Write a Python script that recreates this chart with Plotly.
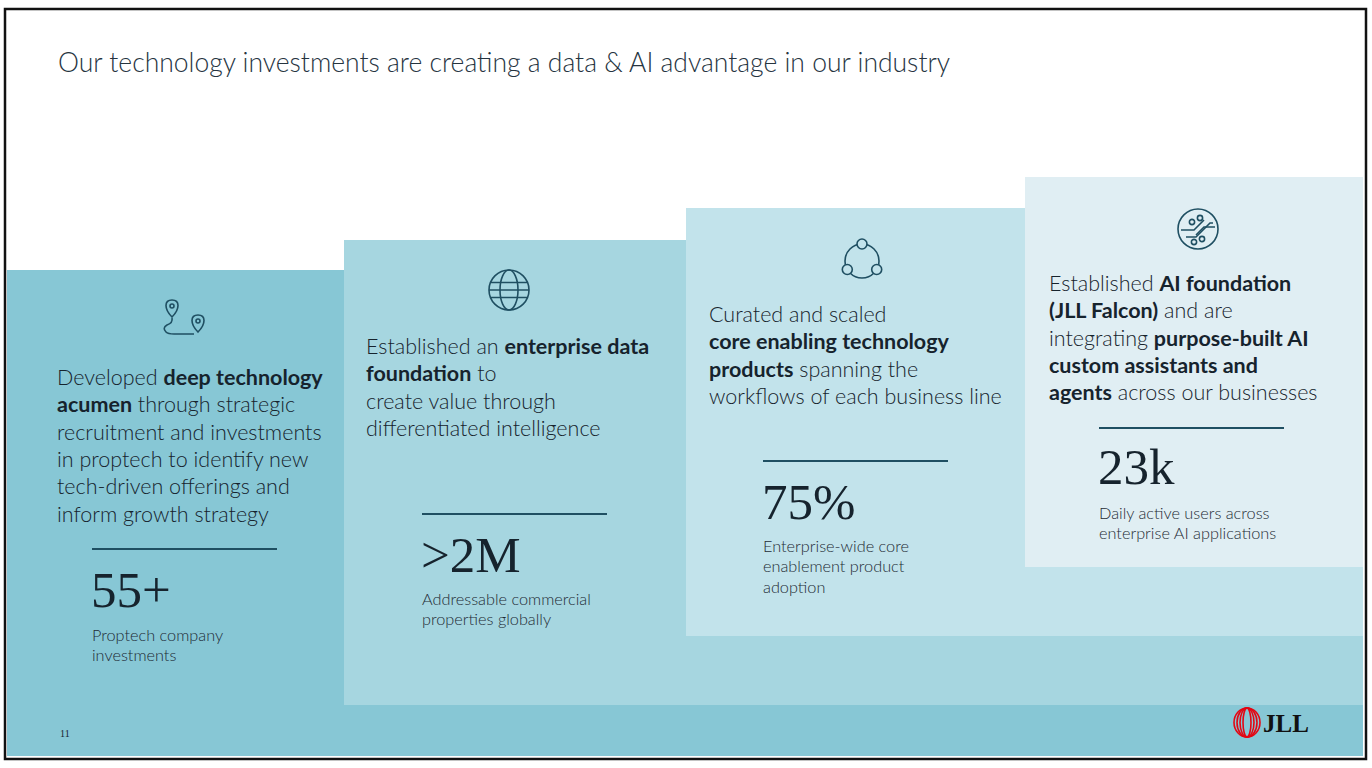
import plotly.graph_objects as go

# slide content
title = "Our technology investments are creating a data & AI advantage in our industry"

panel_text = [
    ["Developed <b>deep technology</b>",
     "<b>acumen</b> through strategic",
     "recruitment and investments",
     "in proptech to identify new",
     "tech-driven offerings and",
     "inform growth strategy"],
    ["Established an <b>enterprise data</b>",
     "<b>foundation</b> to",
     "create value through",
     "differentiated intelligence"],
    ["Curated and scaled",
     "<b>core enabling technology</b>",
     "<b>products</b> spanning the",
     "workflows of each business line"],
    ["Established <b>AI foundation</b>",
     "<b>(JLL Falcon)</b> and are",
     "integrating <b>purpose-built AI</b>",
     "<b>custom assistants and</b>",
     "<b>agents</b> across our businesses"],
]
stat_values = ["55+", ">2M", "75%", "23k"]
stat_labels = [
    ["Proptech company", "investments"],
    ["Addressable commercial", "properties globally"],
    ["Enterprise-wide core", "enablement product", "adoption"],
    ["Daily active users across", "enterprise AI applications"],
]
page_number = "11"

# layout in pixels
W, H = 1372, 768
panel_colors = ["#87c7d5", "#a6d6e0", "#c2e3eb", "#e0eef3"]
panel_x0 = [7, 344, 686, 1025]
panel_top = [270, 240, 208, 177]
panel_bottom = [756, 705, 636, 567]
text_x = [55, 364, 707, 1047]
text_y0 = [377, 346, 314, 283]
rule_x = [92, 422, 763, 1099]
rule_y = [549, 514, 461, 428]
stat_y = [590, 555, 502, 467]
label_y0 = [634, 598, 545, 512]

ink = "#16232d"
teal = "#1f4f62"
sans = "Lato"
serif = "Liberation Serif"

fig = go.Figure()
shapes = []
ann = []

# stepped panels
for i in range(4):
    shapes.append(dict(type="rect", x0=panel_x0[i], x1=1363, y0=panel_top[i], y1=panel_bottom[i],
                       fillcolor=panel_colors[i], line_width=0, layer="below"))
shapes.append(dict(type="rect", x0=7, x1=1363, y0=705, y1=756,
                   fillcolor=panel_colors[0], line_width=0, layer="below"))
# frame
shapes.append(dict(type="rect", x0=5, x1=1366, y0=9, y1=759,
                   line=dict(color="#111111", width=2.5)))

ann.append(dict(x=56, y=62, text=title, xanchor="left", yanchor="middle", showarrow=False,
                font=dict(family=sans, size=26.5, color="#26343f", weight=300)))

for i in range(4):
    for j, line in enumerate(panel_text[i]):
        ann.append(dict(x=text_x[i], y=text_y0[i] + j * 27.3, text=line, xanchor="left",
                        yanchor="middle", showarrow=False,
                        font=dict(family=sans, size=21.5, color=ink, weight=300)))
    shapes.append(dict(type="line", x0=rule_x[i], x1=rule_x[i] + 185, y0=rule_y[i], y1=rule_y[i],
                       line=dict(color=teal, width=2)))
    ann.append(dict(x=rule_x[i] - 3, y=stat_y[i], text=stat_values[i], xanchor="left",
                    yanchor="middle", showarrow=False,
                    font=dict(family=serif, size=51, color=ink)))
    for j, line in enumerate(stat_labels[i]):
        ann.append(dict(x=rule_x[i] - 2, y=label_y0[i] + j * 20.5, text=line, xanchor="left",
                        yanchor="middle", showarrow=False,
                        font=dict(family=sans, size=16.3, color="#1e2b35", weight=300)))

icon_line = dict(color=teal, width=1.6)

# icon 1: route with two pins
def pin(cx, tip):
    top = tip - 17
    return (f"M {cx} {tip} C {cx-8} {tip-8} {cx-8} {top} {cx} {top} "
            f"C {cx+8} {top} {cx+8} {tip-8} {cx} {tip} Z")
shapes.append(dict(type="path", path=pin(172, 317), line=icon_line))
shapes.append(dict(type="path", path=pin(198, 332), line=icon_line))
shapes.append(dict(type="circle", x0=170, x1=174, y0=304, y1=308, line=icon_line))
shapes.append(dict(type="circle", x0=196, x1=200, y0=319, y1=323, line=icon_line))
shapes.append(dict(type="path", path="M 172 318 Q 173 323 167 325 Q 162 328 166 332 Q 168 334 174 334 L 194 334",
                   line=icon_line))

# icon 2: globe
gx, gy, gr = 509, 290, 20
shapes.append(dict(type="circle", x0=gx-gr, x1=gx+gr, y0=gy-gr, y1=gy+gr, line=icon_line))
shapes.append(dict(type="circle", x0=gx-9, x1=gx+9, y0=gy-gr, y1=gy+gr, line=icon_line))
shapes.append(dict(type="line", x0=gx-gr, x1=gx+gr, y0=gy, y1=gy, line=icon_line))
shapes.append(dict(type="line", x0=gx-18.5, x1=gx+18.5, y0=gy-7.5, y1=gy-7.5, line=icon_line))
shapes.append(dict(type="line", x0=gx-18.5, x1=gx+18.5, y0=gy+7.5, y1=gy+7.5, line=icon_line))

# icon 3: ring with three nodes
cx, cy, cr = 862, 261, 17
shapes.append(dict(type="circle", x0=cx-cr, x1=cx+cr, y0=cy-cr, y1=cy+cr, line=icon_line))
for dx, dy in [(0, -17), (-14.7, 8.5), (14.7, 8.5)]:
    shapes.append(dict(type="circle", x0=cx+dx-5, x1=cx+dx+5, y0=cy+dy-5, y1=cy+dy+5,
                       fillcolor=panel_colors[2], line=icon_line))

# icon 4: circuit in a circle
ax, ay, ar = 1198, 229, 20
shapes.append(dict(type="circle", x0=ax-ar, x1=ax+ar, y0=ay-ar, y1=ay+ar, line=icon_line))
shapes.append(dict(type="path", path=f"M {ax-17} {ay+1} L {ax-4} {ay+1} L {ax+6} {ay-9}", line=icon_line))
shapes.append(dict(type="path", path=f"M {ax-12} {ay+8} L {ax-2} {ay+8} L {ax+12} {ay-6} L {ax+15} {ay-6}", line=icon_line))
shapes.append(dict(type="path", path=f"M {ax+17} {ay-2} L {ax+6} {ay-2} L {ax-2} {ay+6}", line=icon_line))
for px, py in [(-6, -7), (2, -11), (-4, 13), (4, 10)]:
    shapes.append(dict(type="circle", x0=ax+px-2.6, x1=ax+px+2.6, y0=ay+py-2.6, y1=ay+py+2.6,
                       fillcolor=panel_colors[3], line=icon_line))

# logo
for rx in [13, 10, 7, 4]:
    shapes.append(dict(type="circle", x0=1247-rx, x1=1247+rx, y0=708, y1=737,
                       line=dict(color="#e30613", width=1.6)))
ann.append(dict(x=1261, y=723, text="<b>JLL</b>", xanchor="left", yanchor="middle", showarrow=False,
                font=dict(family=serif, size=25, color="#111111")))

ann.append(dict(x=58, y=733, text=page_number, xanchor="left", yanchor="middle", showarrow=False,
                font=dict(family=serif, size=10, color=ink)))

fig.update_layout(
    width=W, height=H,
    margin=dict(l=0, r=0, t=0, b=0),
    paper_bgcolor="white", plot_bgcolor="white",
    xaxis=dict(range=[0, W], visible=False, fixedrange=True),
    yaxis=dict(range=[H, 0], visible=False, fixedrange=True),
    shapes=shapes, annotations=ann, showlegend=False,
)

fig.write_html("out.html", config={"displayModeBar": False},
               post_script="document.body.style.margin='0';")
